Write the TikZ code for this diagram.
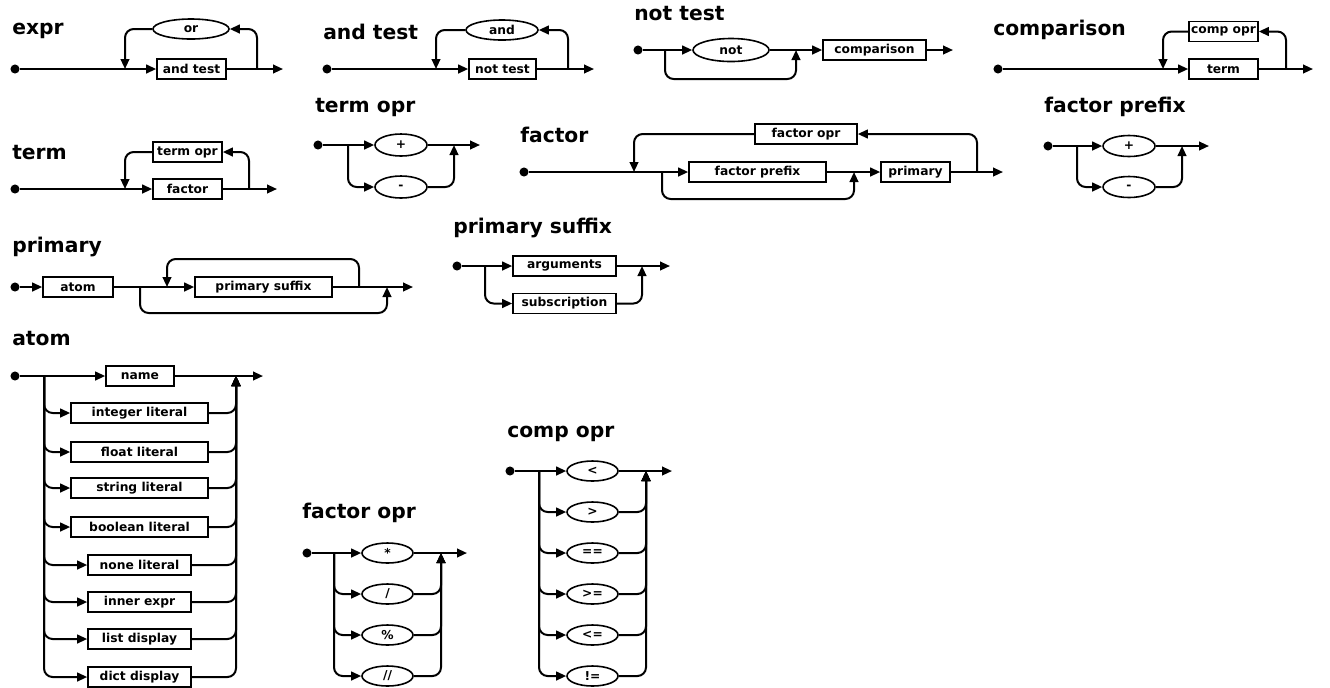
\documentclass[tikz,border=0pt]{standalone}
\usepackage{fontspec}
\setmainfont{DejaVu Sans}
\usetikzlibrary{arrows.meta,shapes.geometric}
\def\pxu{0.75pt}
\begin{document}
\begin{tikzpicture}[x=0.75pt,y=-0.75pt,
  ln/.style={line width=1.5pt},
  arr/.style={ln,-{Triangle[length=7.5pt,width=6.5pt]}},
  rc/.style={rounded corners=6.5pt},
  lbl/.style={font=\bfseries\fontsize{9.2}{10}\selectfont},
  bx/.style={draw,lbl,line width=1.2pt,inner sep=0pt,minimum height=20*\pxu},
  el/.style={draw,lbl,ellipse,line width=1.2pt,inner sep=0pt,minimum height=20*\pxu},
  dot/.style={circle,fill,inner sep=0pt,minimum size=6.8pt},
  ttl/.style={anchor=base west,inner sep=0pt,font=\bfseries\fontsize{15.2}{18}\selectfont}]
\useasboundingbox (0,0) rectangle (1330,687);

% ---------- expr
\node[ttl] (t1) at (12,34) {expr};
\node[dot] (e0) at (15,69) {};
\node[bx,minimum width=69*\pxu] (e1) at (191.5,69) {and test};
\node[el,minimum width=76*\pxu] (e2) at (191,29) {or};
\coordinate (e3) at (257,69);
\coordinate (e4) at (125,69);
\coordinate (e9) at (283,69);
\draw[arr] (e0) -- (e1);
\draw[arr] (e1) -- (e9);
\draw[arr,rc] (e3) |- (e2.east);
\draw[arr,rc] (e2.west) -| (e4);

% ---------- and test
\node[ttl] (t2) at (323,39) {and test};
\node[dot] (a0) at (327,69) {};
\node[bx,minimum width=67*\pxu] (a1) at (502.5,69) {not test};
\node[el,minimum width=72*\pxu] (a2) at (502,30) {and};
\coordinate (a3) at (568,69);
\coordinate (a4) at (436,69);
\coordinate (a9) at (594,69);
\draw[arr] (a0) -- (a1);
\draw[arr] (a1) -- (a9);
\draw[arr,rc] (a3) |- (a2.east);
\draw[arr,rc] (a2.west) -| (a4);

% ---------- not test
\node[ttl] (t3) at (634,20) {not test};
\node[dot] (n0) at (638,50) {};
\node[el,minimum width=76*\pxu,minimum height=23*\pxu] (n1) at (731,50) {not};
\node[bx,minimum width=103*\pxu] (n2) at (874.5,50) {comparison};
\coordinate (nb) at (665,50);
\coordinate (nj) at (796,50);
\coordinate (nl) at (730,79);
\coordinate (n9) at (953,50);
\draw[arr] (n0) -- (n1);
\draw[arr] (n1) -- (n2);
\draw[arr] (n2) -- (n9);
\draw[arr,rc] (nb) |- (nl) -| (nj);

% ---------- comparison
\node[ttl] (t4) at (993,35) {comparison};
\node[dot] (c0) at (998,69) {};
\node[bx,minimum width=69*\pxu] (c1) at (1223.5,69) {term};
\node[bx,minimum width=69*\pxu] (c2) at (1223.5,31.5) {comp opr};
\coordinate (c3) at (1286,69);
\coordinate (c4) at (1163,69);
\coordinate (c9) at (1313,69);
\draw[arr] (c0) -- (c1);
\draw[arr] (c1) -- (c9);
\draw[arr,rc] (c3) |- (c2.east);
\draw[arr,rc] (c2.west) -| (c4);

% ---------- term
\node[ttl] (t5) at (12,159) {term};
\node[dot] (r0) at (15,189) {};
\node[bx,minimum width=69*\pxu] (r1) at (187.5,189) {factor};
\node[bx,minimum width=69*\pxu] (r2) at (187.5,152) {term opr};
\coordinate (r3) at (249,189);
\coordinate (r4) at (125,189);
\coordinate (r9) at (277,189);
\draw[arr] (r0) -- (r1);
\draw[arr] (r1) -- (r9);
\draw[arr,rc] (r3) |- (r2.east);
\draw[arr,rc] (r2.west) -| (r4);

% ---------- term opr
\node[ttl] (t6) at (315,112) {term opr};
\node[dot] (o0) at (318,145) {};
\node[el,minimum width=52*\pxu,minimum height=22*\pxu] (o1) at (401,145) {+};
\node[el,minimum width=52*\pxu,minimum height=22*\pxu] (o2) at (401,187) {-};
\coordinate (ob) at (348,145);
\coordinate (oj) at (454,145);
\coordinate (o9) at (480,145);
\draw[arr] (o0) -- (o1);
\draw[arr] (o1) -- (o9);
\draw[arr,rc] (ob) |- (o2.west);
\draw[arr,rc] (o2.east) -| (oj);

% ---------- factor
\node[ttl] (t7) at (520,142) {factor};
\node[dot] (f0) at (524,172) {};
\node[bx,minimum width=137*\pxu] (f1) at (757.5,172) {factor prefix};
\node[bx,minimum width=69*\pxu] (f2) at (915.5,172) {primary};
\node[bx,minimum width=102*\pxu] (f3) at (806,134) {factor opr};
\coordinate (f4) at (977,172);
\coordinate (f5) at (634,172);
\coordinate (fb) at (662,172);
\coordinate (fl) at (760,199);
\coordinate (fj) at (854,172);
\coordinate (f9) at (1003,172);
\draw[arr] (f0) -- (f1);
\draw[arr] (f1) -- (f2);
\draw[arr] (f2) -- (f9);
\draw[arr,rc] (f4) |- (f3.east);
\draw[arr,rc] (f3.west) -| (f5);
\draw[arr,rc] (fb) |- (fl) -| (fj);

% ---------- factor prefix
\node[ttl] (t8) at (1044,112) {factor prefix};
\node[dot] (p0) at (1048,146) {};
\node[el,minimum width=52*\pxu,minimum height=21*\pxu] (p1) at (1129,146) {+};
\node[el,minimum width=52*\pxu,minimum height=21*\pxu] (p2) at (1129,187) {-};
\coordinate (pb) at (1077,146);
\coordinate (pj) at (1182,146);
\coordinate (p9) at (1209,146);
\draw[arr] (p0) -- (p1);
\draw[arr] (p1) -- (p9);
\draw[arr,rc] (pb) |- (p2.west);
\draw[arr,rc] (p2.east) -| (pj);

% ---------- primary
\node[ttl] (t9) at (12,252) {primary};
\node[dot] (y0) at (15,287) {};
\node[bx,minimum width=70*\pxu] (y1) at (78,287) {atom};
\node[bx,minimum width=137*\pxu] (y2) at (263.5,287) {primary suffix};
\coordinate (yb) at (140,287);
\coordinate (yl) at (263,313);
\coordinate (yj) at (387,287);
\coordinate (y3) at (359,287);
\coordinate (yt) at (263,259);
\coordinate (y4) at (167,287);
\coordinate (y9) at (413,287);
\draw[arr] (y0) -- (y1);
\draw[arr] (y1) -- (y2);
\draw[arr] (y2) -- (y9);
\draw[arr,rc] (y3) |- (yt) -| (y4);
\draw[arr,rc] (yb) |- (yl) -| (yj);

% ---------- primary suffix
\node[ttl] (t10) at (453,233) {primary suffix};
\node[dot] (s0) at (457,266) {};
\node[bx,minimum width=103*\pxu] (s1) at (564.5,266) {arguments};
\node[bx,minimum width=103*\pxu] (s2) at (564.5,303.5) {subscription};
\coordinate (sb) at (485,266);
\coordinate (sj) at (642,266);
\coordinate (s9) at (670,266);
\draw[arr] (s0) -- (s1);
\draw[arr] (s1) -- (s9);
\draw[arr,rc] (sb) |- (s2.west);
\draw[arr,rc] (s2.east) -| (sj);

% ---------- atom
\node[ttl] (t11) at (12,345) {atom};
\node[dot] (m0) at (15,376) {};
\node[bx,minimum width=68*\pxu] (m1) at (140,376) {name};
\coordinate (mb) at (44,376);
\coordinate (mj) at (236,376);
\coordinate (m9) at (263,376);
\draw[arr] (m0) -- (m1);
\draw[arr] (m1) -- (m9);
\foreach \n/\yy/\w/\t in {2/413/137/integer literal,3/452/137/float literal,
  4/488/137/string literal,5/527/137/boolean literal,6/565/103/none literal,
  7/602/103/inner expr,8/639/103/list display,9/677/103/dict display}{
  \node[bx,minimum width=\w*\pxu] (m\n) at (139.5,\yy) {\t};
  \draw[arr,rc] (mb) |- (m\n.west);
  \draw[arr,rc] (m\n.east) -| (mj);
}

% ---------- factor opr
\node[ttl] (t12) at (302,518) {factor opr};
\node[dot] (q0) at (307,553) {};
\node[el,minimum width=51*\pxu] (q1) at (387.5,553) {*};
\coordinate (qb) at (334,553);
\coordinate (qj) at (441,553);
\coordinate (q9) at (467,553);
\draw[arr] (q0) -- (q1);
\draw[arr] (q1) -- (q9);
\foreach \n/\yy/\t in {2/594/{/},3/635/{\%},4/676/{//}}{
  \node[el,minimum width=51*\pxu] (q\n) at (387.5,\yy) {\t};
  \draw[arr,rc] (qb) |- (q\n.west);
  \draw[arr,rc] (q\n.east) -| (qj);
}

% ---------- comp opr
\node[ttl] (t13) at (507,437) {comp opr};
\node[dot] (k0) at (510,471) {};
\node[el,minimum width=51*\pxu] (k1) at (592.5,471) {<};
\coordinate (kb) at (539,471);
\coordinate (kj) at (646,471);
\coordinate (k9) at (672,471);
\draw[arr] (k0) -- (k1);
\draw[arr] (k1) -- (k9);
\foreach \n/\yy/\t in {2/512/{>},3/553/{==},4/594/{>=},5/635/{<=},6/676/{!=}}{
  \node[el,minimum width=51*\pxu] (k\n) at (592.5,\yy) {\t};
  \draw[arr,rc] (kb) |- (k\n.west);
  \draw[arr,rc] (k\n.east) -| (kj);
}
\end{tikzpicture}
\end{document}
